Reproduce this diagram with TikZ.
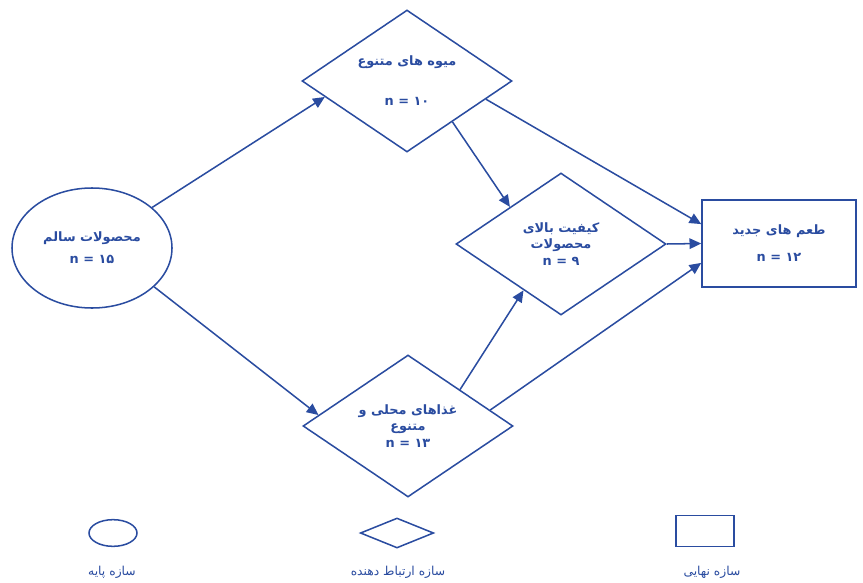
\documentclass[tikz,border=0pt]{standalone}
\usepackage{fontspec}
\newfontfamily\fa[Script=Arabic]{DejaVu Sans}
\TeXXeTstate=1
\usetikzlibrary{shapes.geometric,arrows.meta}
\definecolor{diagblue}{RGB}{42,76,160}
\begin{document}
\begin{tikzpicture}[x=0.03cm, y=-0.03cm,
  every node/.style = {draw=diagblue, line width=1.3pt, align=center,
    text=diagblue, inner sep=0pt, font=\fa\bfseries\fontsize{11}{14}\selectfont},
  basebox/.style = {ellipse, minimum width=4.8cm, minimum height=3.6cm},
  linkbox/.style = {diamond, aspect=1.48, minimum width=6.3cm, minimum height=4.26cm},
  finalbox/.style = {rectangle, minimum width=4.62cm, minimum height=2.61cm},
  legendtext/.style = {draw=none, font=\fa\fontsize{10.5}{12}\selectfont},
  flow/.style = {draw=diagblue, line width=1.3pt, -{Triangle[length=10pt,width=9pt]}}]
  \useasboundingbox (0,0) rectangle (863,582);
  \node[basebox] (healthy) at (92,248) {\beginR محصولات سالم\endR\\[5pt] n = ۱۵};
  \node[linkbox] (fruits) at (407,81) {\beginR میوه های متنوع\endR\\[20pt] n = ۱۰};
  \node[linkbox] (quality) at (561,244) {\beginR کیفیت بالای\endR\\ \beginR محصولات\endR\\ n = ۹};
  \node[linkbox] (food) at (408,426) {\beginR غذاهای محلی و\endR\\ \beginR متنوع\endR\\ n = ۱۳};
  \node[finalbox] (taste) at (779,243.5) {\beginR طعم های جدید\endR\\[9pt] n = ۱۲};
  \draw[flow] (healthy.34) -- (fruits.191);
  \draw[flow] (healthy.-32) -- (food.173);
  \draw[flow] (fruits.-42) -- (quality.144);
  \draw[flow] (fruits.-13) -- (taste.166);
  \draw[flow] (quality.east) -- (taste.west);
  \draw[flow] (food.35) -- (quality.231);
  \draw[flow] (food.11) -- (taste.194);
  \node[ellipse, minimum width=1.44cm, minimum height=0.8cm] (keybase) at (113,533) {};
  \node[diamond, aspect=2.5, minimum width=2.2cm, minimum height=0.9cm] (keylink) at (397,533) {};
  \node[rectangle, minimum width=1.75cm, minimum height=0.93cm] (keyfinal) at (705,531) {};
  \node[legendtext] (keybasetext) at (112,572) {\beginR سازه پایه\endR};
  \node[legendtext] (keylinktext) at (398,572) {\beginR سازه ارتباط دهنده\endR};
  \node[legendtext] (keyfinaltext) at (712,572) {\beginR سازه نهایی\endR};
\end{tikzpicture}
\end{document}
